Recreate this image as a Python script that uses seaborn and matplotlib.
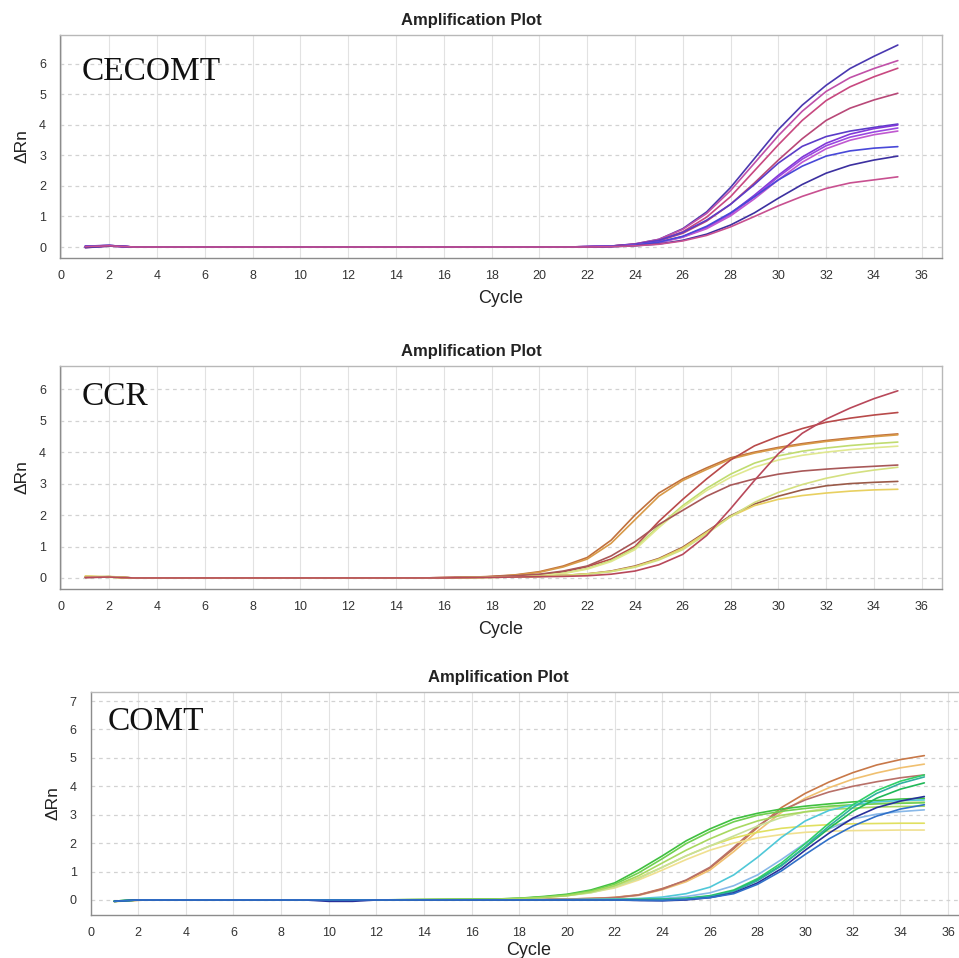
import matplotlib
matplotlib.use("Agg")
import matplotlib.pyplot as plt
import pandas as pd
import seaborn as sns

# ---------------- data ----------------
# Panel 1: CECOMT
cecomt_cycles = [1, 2, 3, 21, 22, 23, 24, 25, 26, 27, 28, 29, 30, 31, 32, 33, 34, 35]
cecomt_a = [0.03, 0.05, 0.0, 0.0, 0.01, 0.03, 0.10, 0.25, 0.60, 1.15, 1.95, 2.90, 3.85, 4.65, 5.30, 5.85, 6.25, 6.62]
cecomt_b = [0.01, 0.04, 0.0, 0.0, 0.01, 0.03, 0.10, 0.25, 0.58, 1.10, 1.85, 2.75, 3.65, 4.45, 5.10, 5.55, 5.85, 6.11]
cecomt_c = [-0.02, 0.03, 0.0, 0.0, 0.01, 0.03, 0.09, 0.22, 0.50, 0.98, 1.65, 2.50, 3.35, 4.15, 4.80, 5.25, 5.58, 5.86]
cecomt_d = [0.02, 0.05, 0.0, 0.0, 0.01, 0.03, 0.08, 0.20, 0.45, 0.85, 1.40, 2.10, 2.85, 3.55, 4.15, 4.55, 4.82, 5.04]
cecomt_e = [0.0, 0.04, 0.0, 0.0, 0.01, 0.03, 0.09, 0.22, 0.48, 0.88, 1.40, 2.05, 2.75, 3.30, 3.62, 3.80, 3.92, 4.03]
cecomt_f = [0.03, 0.05, 0.0, 0.0, 0.01, 0.02, 0.07, 0.16, 0.34, 0.65, 1.10, 1.70, 2.35, 2.95, 3.40, 3.70, 3.88, 4.00]
cecomt_g = [-0.01, 0.04, 0.0, 0.0, 0.01, 0.02, 0.06, 0.15, 0.33, 0.63, 1.07, 1.65, 2.30, 2.88, 3.32, 3.60, 3.77, 3.90]
cecomt_h = [0.01, 0.03, 0.0, 0.0, 0.01, 0.02, 0.06, 0.14, 0.32, 0.60, 1.02, 1.58, 2.20, 2.78, 3.22, 3.50, 3.68, 3.80]
cecomt_i = [0.02, 0.05, 0.0, 0.0, 0.01, 0.02, 0.06, 0.16, 0.35, 0.68, 1.12, 1.65, 2.20, 2.65, 2.98, 3.15, 3.24, 3.29]
cecomt_j = [-0.02, 0.03, 0.0, 0.0, 0.0, 0.01, 0.04, 0.10, 0.22, 0.42, 0.72, 1.12, 1.60, 2.05, 2.42, 2.68, 2.85, 2.98]
cecomt_k = [0.01, 0.04, 0.0, 0.0, 0.0, 0.01, 0.04, 0.09, 0.20, 0.38, 0.66, 1.00, 1.35, 1.66, 1.92, 2.10, 2.20, 2.30]
cecomt_colors = ["#4a38b0", "#c050a8", "#c84880", "#b84878", "#5a3cc8", "#8038d8",
                 "#9a48e0", "#c058d0", "#4848d8", "#3c30a0", "#c85090"]

# Panel 2: CCR
ccr_cycles = [1, 2, 3, 15, 16, 17, 18, 19, 20, 21, 22, 23, 24, 25, 26, 27, 28, 29, 30, 31, 32, 33, 34, 35]
ccr_p = [0.03, 0.04, 0.0, 0.0, 0.01, 0.02, 0.05, 0.10, 0.20, 0.38, 0.65, 1.20, 2.00, 2.70, 3.15, 3.50, 3.82, 4.00, 4.15, 4.27, 4.37, 4.45, 4.52, 4.58]
ccr_p2 = [0.05, 0.03, 0.0, 0.0, 0.01, 0.02, 0.04, 0.09, 0.18, 0.35, 0.60, 1.10, 1.85, 2.60, 3.10, 3.45, 3.78, 3.97, 4.12, 4.24, 4.34, 4.42, 4.49, 4.55]
ccr_q = [0.02, 0.04, 0.0, 0.0, 0.01, 0.02, 0.04, 0.06, 0.10, 0.20, 0.36, 0.60, 1.00, 1.80, 2.50, 3.15, 3.75, 4.20, 4.50, 4.75, 4.95, 5.08, 5.18, 5.26]
ccr_r1 = [0.04, 0.03, 0.0, 0.0, 0.0, 0.01, 0.03, 0.05, 0.08, 0.15, 0.30, 0.55, 0.95, 1.65, 2.30, 2.85, 3.30, 3.65, 3.88, 4.03, 4.13, 4.21, 4.27, 4.32]
ccr_r2 = [0.05, 0.02, 0.0, 0.0, 0.0, 0.01, 0.03, 0.05, 0.08, 0.14, 0.28, 0.52, 0.90, 1.60, 2.25, 2.78, 3.20, 3.52, 3.75, 3.90, 4.00, 4.08, 4.14, 4.19]
ccr_s = [0.01, 0.03, 0.0, 0.0, 0.01, 0.02, 0.04, 0.07, 0.12, 0.22, 0.38, 0.70, 1.15, 1.70, 2.15, 2.60, 2.95, 3.15, 3.30, 3.40, 3.46, 3.51, 3.55, 3.59]
ccr_l1 = [0.03, 0.04, 0.0, 0.0, 0.0, 0.01, 0.02, 0.03, 0.05, 0.08, 0.13, 0.22, 0.38, 0.62, 0.98, 1.48, 1.98, 2.35, 2.60, 2.80, 2.93, 3.00, 3.04, 3.07]
ccr_l2 = [0.06, 0.03, 0.0, 0.0, 0.0, 0.01, 0.02, 0.03, 0.05, 0.08, 0.13, 0.21, 0.36, 0.60, 0.95, 1.45, 1.95, 2.30, 2.50, 2.62, 2.70, 2.76, 2.80, 2.82]
ccr_l3 = [0.04, 0.05, 0.0, 0.0, 0.0, 0.01, 0.02, 0.03, 0.05, 0.07, 0.12, 0.20, 0.34, 0.57, 0.90, 1.40, 1.95, 2.40, 2.72, 2.97, 3.17, 3.32, 3.43, 3.52]
ccr_t = [0.02, 0.03, 0.0, 0.0, 0.0, 0.01, 0.02, 0.03, 0.04, 0.05, 0.07, 0.12, 0.22, 0.42, 0.75, 1.35, 2.20, 3.10, 3.95, 4.60, 5.05, 5.40, 5.70, 5.95]
ccr_colors = ["#c0703c", "#d89a48", "#b84a4a", "#c0dc70", "#e0e890", "#a85858",
              "#9a5a48", "#e8d060", "#d4e080", "#b8485a"]

# Panel 3: COMT
comt_cycles = [1, 2, 3, 9, 10, 11, 12, 17, 18, 19, 20, 21, 22, 23, 24, 25, 26, 27, 28, 29, 30, 31, 32, 33, 34, 35]
comt_a = [-0.05, -0.01, 0.0, 0.0, 0.0, 0.0, 0.0, 0.0, 0.01, 0.02, 0.03, 0.05, 0.09, 0.18, 0.40, 0.68, 1.12, 1.80, 2.55, 3.25, 3.75, 4.15, 4.48, 4.75, 4.94, 5.08]
comt_b = [-0.04, 0.0, 0.0, 0.0, 0.0, 0.0, 0.0, 0.0, 0.01, 0.02, 0.03, 0.05, 0.08, 0.16, 0.36, 0.64, 1.05, 1.70, 2.42, 3.08, 3.58, 3.95, 4.25, 4.47, 4.65, 4.78]
comt_c = [-0.05, -0.01, 0.0, 0.0, 0.0, 0.0, 0.0, 0.0, 0.01, 0.02, 0.03, 0.05, 0.08, 0.17, 0.38, 0.70, 1.15, 1.85, 2.60, 3.15, 3.52, 3.80, 4.00, 4.16, 4.30, 4.40]
comt_d = [-0.06, -0.01, 0.0, 0.0, 0.0, 0.0, 0.0, 0.02, 0.05, 0.10, 0.18, 0.30, 0.48, 0.78, 1.15, 1.55, 1.90, 2.18, 2.38, 2.52, 2.60, 2.65, 2.68, 2.69, 2.70, 2.70]
comt_e = [-0.05, 0.0, 0.0, 0.0, 0.0, 0.0, 0.0, 0.02, 0.04, 0.08, 0.15, 0.26, 0.42, 0.70, 1.05, 1.42, 1.75, 2.00, 2.18, 2.30, 2.38, 2.42, 2.44, 2.45, 2.46, 2.46]
comt_f = [-0.04, 0.0, 0.0, 0.0, 0.0, 0.0, 0.0, 0.03, 0.06, 0.10, 0.15, 0.25, 0.45, 0.75, 1.15, 1.55, 1.90, 2.25, 2.60, 2.90, 3.10, 3.25, 3.34, 3.40, 3.43, 3.45]
comt_g1 = [-0.05, 0.0, 0.0, 0.0, 0.0, 0.0, 0.0, 0.03, 0.06, 0.12, 0.20, 0.35, 0.60, 1.05, 1.55, 2.08, 2.50, 2.85, 3.05, 3.20, 3.30, 3.38, 3.45, 3.50, 3.55, 3.58]
comt_g2 = [-0.04, 0.0, 0.0, 0.0, 0.0, 0.0, 0.0, 0.03, 0.05, 0.10, 0.18, 0.32, 0.55, 0.95, 1.45, 1.98, 2.40, 2.75, 2.98, 3.12, 3.22, 3.30, 3.35, 3.38, 3.40, 3.42]
comt_g3 = [-0.05, 0.0, 0.0, 0.0, 0.0, 0.0, 0.0, 0.02, 0.05, 0.09, 0.15, 0.28, 0.50, 0.85, 1.30, 1.75, 2.15, 2.50, 2.78, 2.98, 3.10, 3.18, 3.23, 3.27, 3.29, 3.30]
comt_h1 = [-0.04, 0.0, 0.0, 0.0, 0.0, 0.0, 0.0, 0.0, 0.0, 0.01, 0.01, 0.02, 0.03, 0.05, 0.10, 0.22, 0.45, 0.88, 1.50, 2.20, 2.78, 3.15, 3.35, 3.45, 3.50, 3.52]
comt_h2 = [-0.05, 0.0, 0.0, 0.0, 0.0, 0.0, 0.0, 0.0, 0.0, 0.0, 0.01, 0.01, 0.02, 0.03, 0.05, 0.12, 0.25, 0.50, 0.88, 1.42, 2.00, 2.50, 2.85, 3.02, 3.11, 3.17]
comt_i1 = [-0.04, 0.0, 0.0, 0.0, 0.0, 0.0, 0.0, 0.0, 0.0, 0.0, 0.0, 0.01, 0.01, 0.02, 0.03, 0.06, 0.15, 0.35, 0.75, 1.30, 1.98, 2.70, 3.35, 3.85, 4.18, 4.40]
comt_i2 = [-0.05, 0.0, 0.0, 0.0, 0.0, 0.0, 0.0, 0.0, 0.0, 0.0, 0.0, 0.0, 0.01, 0.01, 0.02, 0.05, 0.13, 0.32, 0.70, 1.22, 1.85, 2.52, 3.12, 3.58, 3.90, 4.12]
comt_i3 = [-0.04, 0.0, 0.0, 0.0, 0.0, 0.0, 0.0, 0.0, 0.0, 0.0, 0.0, 0.0, 0.0, 0.01, 0.02, 0.04, 0.12, 0.30, 0.68, 1.20, 1.88, 2.60, 3.25, 3.75, 4.10, 4.33]
comt_j = [-0.05, 0.0, 0.0, 0.0, -0.05, -0.05, 0.0, 0.0, 0.0, 0.0, 0.0, 0.0, 0.0, -0.02, -0.03, 0.0, 0.08, 0.25, 0.60, 1.10, 1.75, 2.35, 2.88, 3.25, 3.48, 3.64]
comt_k = [-0.05, 0.0, 0.0, 0.0, 0.0, 0.0, 0.0, 0.0, 0.0, 0.0, 0.0, 0.0, 0.0, -0.01, -0.02, 0.02, 0.08, 0.22, 0.55, 1.02, 1.60, 2.15, 2.60, 2.95, 3.20, 3.35]
comt_colors = ["#c87848", "#f0c070", "#b87068", "#e0e060", "#f0e090", "#c8e098",
               "#40c040", "#70d050", "#a8d860", "#50c8d8", "#88b8e8",
               "#30d068", "#20b858", "#30b0a0", "#28309a", "#3070c8"]

x_ticks = [0, 2, 4, 6, 8, 10, 12, 14, 16, 18, 20, 22, 24, 26, 28, 30, 32, 34, 36]
panel_names = ["CECOMT", "CCR", "COMT"]
title_text = "Amplification Plot"


def long_frame(cycles, curves):
    rows = []
    for idx, ys in enumerate(curves):
        assert len(ys) == len(cycles), (idx, len(ys), len(cycles))
        for c, v in zip(cycles, ys):
            rows.append({"cycle": c, "rn": v, "well": f"w{idx:02d}"})
    return pd.DataFrame(rows)


panels = [
    (cecomt_cycles, [cecomt_a, cecomt_b, cecomt_c, cecomt_d, cecomt_e, cecomt_f,
                     cecomt_g, cecomt_h, cecomt_i, cecomt_j, cecomt_k], cecomt_colors),
    (ccr_cycles, [ccr_p, ccr_p2, ccr_q, ccr_r1, ccr_r2, ccr_s, ccr_l1, ccr_l2,
                  ccr_l3, ccr_t], ccr_colors),
    (comt_cycles, [comt_a, comt_b, comt_c, comt_d, comt_e, comt_f, comt_g1, comt_g2,
                   comt_g3, comt_h1, comt_h2, comt_i1, comt_i2, comt_i3, comt_j,
                   comt_k], comt_colors),
]

# ---------------- style / layout ----------------
sns.set_style("white")
plt.rcParams["font.family"] = ["Liberation Sans", "DejaVu Sans"]

fig = plt.figure(figsize=(9.59, 9.58), dpi=100)
rects = [
    [0.0626, 0.7307, 0.9197, 0.2328],
    [0.0626, 0.3852, 0.9197, 0.2328],
    [0.0944, 0.0449, 0.9129, 0.2328],
]
xlims = [(-0.06, 36.85), (-0.06, 36.85), (0.0, 36.75)]
ylims = [(-0.36, 6.95), (-0.35, 6.74), (-0.53, 7.32)]
yticks = [[0, 1, 2, 3, 4, 5, 6], [0, 1, 2, 3, 4, 5, 6], [0, 1, 2, 3, 4, 5, 6, 7]]
name_pos = [(0.025, 0.798), (0.025, 0.825), (0.019, 0.83)]
xlabel_y = [-0.142, -0.142, -0.122]

for k, (cycles, curves, colors) in enumerate(panels):
    ax = fig.add_axes(rects[k])
    df = long_frame(cycles, curves)
    wells = sorted(df["well"].unique())
    pal = {w: colors[i] for i, w in enumerate(wells)}
    sns.lineplot(data=df, x="cycle", y="rn", hue="well", palette=pal,
                 estimator=None, sort=False, legend=False, linewidth=1.2,
                 ax=ax)

    ax.set_xlim(*xlims[k])
    ax.set_ylim(*ylims[k])
    ax.set_xticks(x_ticks)
    ax.set_yticks(yticks[k])

    ax.set_axisbelow(True)
    ax.xaxis.grid(True, color="#e2e2e2", linestyle="-", linewidth=0.8)
    ax.yaxis.grid(True, color="#d2d2d2", linestyle=(0, (3, 3)), linewidth=0.9)

    for side, sp in ax.spines.items():
        sp.set_visible(True)
        sp.set_linewidth(1.0)
        sp.set_color("#b8b8b8" if side in ("top", "right") else "#8c8c8c")

    ax.tick_params(axis="both", direction="out", length=4, width=0.8,
                   color="#8c8c8c", labelsize=9, labelcolor="#333333")
    ax.tick_params(axis="x", pad=5)
    ax.tick_params(axis="y", pad=6)

    ax.set_xlabel("Cycle", fontsize=13, color="#222222")
    ax.xaxis.set_label_coords(0.5, xlabel_y[k])
    ax.set_ylabel("ΔRn", fontsize=12.5, color="#222222", va="center")
    ax.yaxis.set_label_coords(-0.043, 0.5)

    h_px = rects[k][3] * 958
    ax.set_title(title_text, x=0.466, y=1.0 + 10 / h_px, pad=0,
                 fontsize=12, fontweight="bold", color="#222222", va="baseline")

    ax.text(name_pos[k][0], name_pos[k][1], panel_names[k], transform=ax.transAxes,
            fontsize=24, family=["Liberation Serif", "DejaVu Serif"],
            color="#111111", va="baseline", ha="left", zorder=5)

fig.savefig("out.png", dpi=100)
